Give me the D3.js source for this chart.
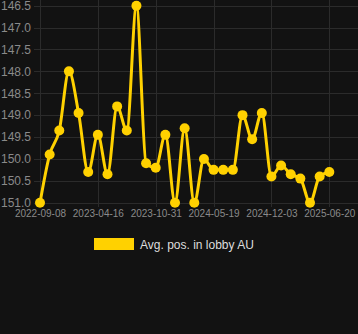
<!DOCTYPE html>
<html>
<head>
<meta charset="utf-8">
<script src="https://cdn.jsdelivr.net/npm/d3@7"></script>
<style>
html,body{margin:0;padding:0;background:#121212;}
svg{display:block;}
</style>
</head>
<body>
<svg id="chart" width="358" height="334"></svg>
<script>
const dates = ["2022-09-08","2022-10-14","2022-11-20","2022-12-26","2023-01-31","2023-03-09",
  "2023-04-16","2023-05-19","2023-06-21","2023-07-24","2023-08-26","2023-09-28",
  "2023-10-31","2023-12-03","2024-01-06","2024-02-08","2024-03-12","2024-04-15",
  "2024-05-19","2024-06-21","2024-07-24","2024-08-26","2024-09-28","2024-10-31",
  "2024-12-03","2025-01-05","2025-02-07","2025-03-12","2025-04-14","2025-05-17","2025-06-20"];
const positions = [151.0,149.9,149.35,148.0,148.95,150.3,149.45,150.35,148.8,149.35,146.5,
  150.1,150.2,149.45,151.0,149.3,151.0,150.0,150.25,150.25,150.25,149.0,149.55,148.95,
  150.4,150.15,150.35,150.45,151.0,150.4,150.3];
const yTicks = [146.5,147.0,147.5,148.0,148.5,149.0,149.5,150.0,150.5,151.0];
const xTickLabels = ["2022-09-08","2023-04-16","2023-10-31","2024-05-19","2024-12-03","2025-06-20"];
const seriesName = "Avg. pos. in lobby AU";

(function () {
const W = 358, H = 334;
const plotLeft = 40, plotRight = 329.3, plotTop = 5.7, plotBottom = 202.7;
const color = "#FFD100";
const gridColor = "#2b2b2b";

const svg = d3.select("#chart");
svg.append("rect").attr("width", W).attr("height", H).attr("fill", "#121212");

const x = d3.scalePoint().domain(dates).range([plotLeft, plotRight]);
const y = d3.scaleLinear().domain([146.5, 151.0]).range([plotTop, plotBottom]);

// horizontal grid
svg.append("g").selectAll("line").data(yTicks).join("line")
  .attr("x1", 34).attr("x2", W).attr("y1", d => Math.round(y(d)) + 0.5).attr("y2", d => Math.round(y(d)) + 0.5)
  .attr("stroke", gridColor).attr("stroke-width", 1);

// vertical grid
svg.append("g").selectAll("line").data(xTickLabels).join("line")
  .attr("x1", d => Math.round(x(d)) + 0.5).attr("x2", d => Math.round(x(d)) + 0.5)
  .attr("y1", 0).attr("y2", 207)
  .attr("stroke", gridColor).attr("stroke-width", 1);

// y labels
const yAxis = d3.axisLeft(y).tickValues(yTicks).tickFormat(d3.format(".1f")).tickSize(0).tickPadding(0);
const gy = svg.append("g").attr("transform", "translate(31,0)").call(yAxis);
gy.select(".domain").remove();
gy.selectAll("text").attr("fill", "#8a8a8a").style("font-family", "Liberation Sans, Arial, sans-serif").style("font-size", "12px");

// x labels
const xAxis = d3.axisBottom(x).tickValues(xTickLabels).tickSize(0).tickPadding(0);
const gx = svg.append("g").attr("transform", "translate(0,209)").call(xAxis);
gx.select(".domain").remove();
gx.selectAll("text").attr("fill", "#8a8a8a").style("font-family", "Liberation Sans, Arial, sans-serif").style("font-size", "10px").attr("dy", "0.75em");

// line
const line = d3.line().x((d, i) => x(dates[i])).y(d => y(d)).curve(d3.curveMonotoneX);
svg.append("path").datum(positions).attr("d", line)
  .attr("fill", "none").attr("stroke", color).attr("stroke-width", 3).attr("stroke-linejoin", "round");

svg.append("g").selectAll("circle").data(positions).join("circle")
  .attr("cx", (d, i) => x(dates[i])).attr("cy", d => y(d)).attr("r", 5)
  .attr("fill", color);

// legend
svg.append("rect").attr("x", 94).attr("y", 238).attr("width", 40).attr("height", 12).attr("fill", color);
svg.append("text").attr("x", 140).attr("y", 248.5).text(seriesName)
  .attr("fill", "#dddddd").style("font-family", "Liberation Sans, Arial, sans-serif").style("font-size", "12px");
})();
</script>
</body>
</html>
